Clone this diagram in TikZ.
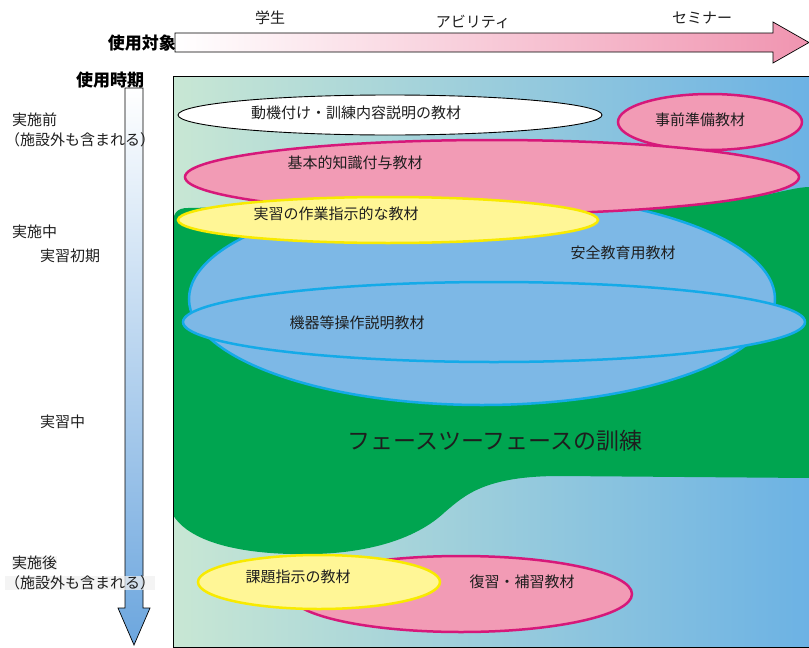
\documentclass[tikz,border=0pt]{standalone}
\usepackage{fontspec}
\setmainfont{Noto Sans CJK JP}
\usetikzlibrary{shapes.geometric}
\definecolor{pinkfill}{RGB}{242,155,181}
\definecolor{pinkline}{RGB}{214,24,122}
\definecolor{yelfill}{RGB}{255,246,150}
\definecolor{yelline}{RGB}{248,234,0}
\definecolor{bluefill}{RGB}{125,184,230}
\definecolor{blueline}{RGB}{20,170,232}
\definecolor{grn}{RGB}{0,165,80}
\definecolor{bgleft}{RGB}{200,231,212}
\definecolor{bgmid}{RGB}{165,212,236}
\definecolor{bgright}{RGB}{108,178,228}
\definecolor{arrpink}{RGB}{240,148,176}
\definecolor{arrblue}{RGB}{108,166,222}
\definecolor{txt}{RGB}{30,30,30}
\tikzset{
  ell/.style={shape=ellipse, inner sep=0pt, line width=2.5pt},
  pinkell/.style={ell, draw=pinkline, fill=pinkfill},
  yelell/.style={ell, draw=yelline, fill=yelfill},
  blueell/.style={ell, draw=blueline, fill=bluefill},
  whiteell/.style={ell, draw=black, line width=0.9pt, fill=white},
  lbl/.style={font=\fontsize{15}{18}\selectfont, text=txt, inner sep=0pt},
  axislbl/.style={font=\fontsize{17}{20}\selectfont\bfseries, text=black, inner sep=0pt},
  biglbl/.style={font=\fontsize{23}{26}\selectfont, text=txt, inner sep=0pt}
}
\begin{document}
\begin{tikzpicture}[x=1pt,y=-1pt]
\useasboundingbox (0,0) rectangle (809,648);
% horizontal arrow
\shadedraw[left color=white, right color=arrpink, draw=black, line width=0.7pt]
  (175,33) -- (773,33) -- (773,22) -- (809,42.5) -- (773,63) -- (773,52) -- (175,52) -- cycle;
\node[axislbl, anchor=east] (target) at (176,43) {使用対象};
\node[lbl] (student) at (270,18) {学生};
\node[lbl] (ability) at (473,22) {アビリティ};
\node[lbl] (seminar) at (702,18) {セミナー};
% vertical arrow
\shadedraw[top color=white, bottom color=arrblue, draw=black, line width=0.7pt]
  (125,88) -- (125,608) -- (118,608) -- (134,645) -- (150,608) -- (143,608) -- (143,88) -- cycle;
\node[axislbl] (period) at (110,80) {使用時期};
% left labels
\node[lbl, anchor=west] (pre) at (12,120) {実施前};
\node[lbl, anchor=west] (preout) at (5,140) {（施設外も含まれる）};
\node[lbl, anchor=west] (during) at (12,232) {実施中};
\node[lbl, anchor=west] (early) at (40,256) {実習初期};
\node[lbl, anchor=west] (mid) at (40,422) {実習中};
\node[lbl, anchor=west, fill=gray!12, fill opacity=0.75, text opacity=1] (post) at (12,563) {実施後};
\node[lbl, anchor=west, fill=gray!12, fill opacity=0.75, text opacity=1] (postout) at (5,583) {（施設外も含まれる）};
% panel
\begin{scope}
\clip (173,76) rectangle (810,648);
\shade[left color=bgleft, middle color=bgmid, right color=bgright] (173,76) rectangle (810,648);
\fill[grn] (173,224) .. controls (173,213) and (177,208) .. (188,208) -- (760,196)
  .. controls (785,191) and (798,187) .. (810,187) -- (810,478) -- (560,476)
  .. controls (485,476) and (465,495) .. (445,512)
  .. controls (410,545) and (350,556) .. (290,554)
  .. controls (220,552) and (185,535) .. (173,515) -- cycle;
\node[blueell, minimum width=586pt, minimum height=212pt] (safetyE) at (482,299) {};
\node[blueell, minimum width=622pt, minimum height=80pt] (machineE) at (494,322) {};
\node[pinkell, minimum width=184pt, minimum height=56pt] (prepE) at (710,122) {};
\node[whiteell, minimum width=424pt, minimum height=40pt] (motivE) at (390,115) {};
\node[pinkell, minimum width=614pt, minimum height=74pt] (basicE) at (492,177) {};
\node[yelell, minimum width=420pt, minimum height=46pt] (workE) at (388,220) {};
\node[pinkell, minimum width=342pt, minimum height=76pt] (reviewE) at (461,594) {};
\node[yelell, minimum width=242pt, minimum height=54pt] (taskE) at (319,582) {};
\end{scope}
\draw[black, line width=0.8pt] (810,76) -- (173,76) -- (173,647.5) -- (810,647.5);
% ellipse texts
\node[lbl] (motiv) at (356,113) {動機付け・訓練内容説明の教材};
\node[lbl] (prep) at (700,120) {事前準備教材};
\node[lbl] (basic) at (355,163) {基本的知識付与教材};
\node[lbl] (work) at (336,214) {実習の作業指示的な教材};
\node[lbl] (safety) at (623,253) {安全教育用教材};
\node[lbl] (machine) at (357,323) {機器等操作説明教材};
\node[biglbl] (f2f) at (495,441) {フェースツーフェースの訓練};
\node[lbl] (task) at (298,577) {課題指示の教材};
\node[lbl] (review) at (522,582) {復習・補習教材};
\end{tikzpicture}
\end{document}
